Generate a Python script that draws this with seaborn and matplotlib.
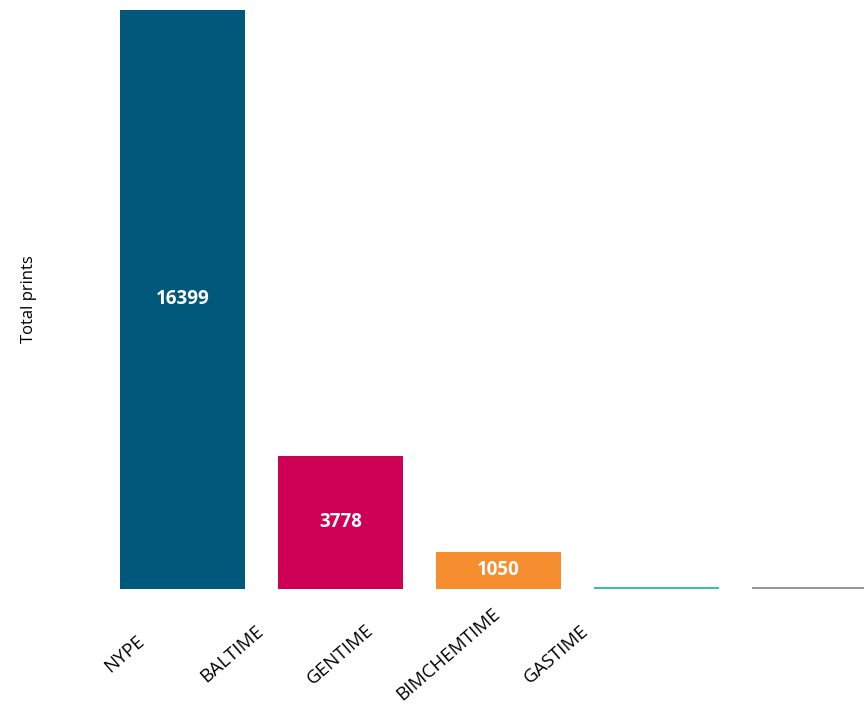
import matplotlib

matplotlib.use('Agg')
import matplotlib.pyplot as plt
import seaborn as sns
import pandas as pd

# Данные
categories = ['NYPE', 'BALTIME', 'GENTIME', 'BIMCHEMTIME', 'GASTIME']
prints = [16399, 3778, 1050, 70, 65]
colors = ['#00587A', '#CE0055', '#F68D2E', '#3CBFA4', '#8E9A9B']
shown_labels = ['16399', '3778', '1050', '', '']

sns.set_theme(style="white")
plt.rcParams['font.family'] = ['Open Sans', 'DejaVu Sans']

df = pd.DataFrame({'category': categories, 'prints': prints})

fig = plt.figure(figsize=(8.64, 7.18), dpi=100)
ax = fig.add_axes([103.5 / 864, 1 - 589 / 718, (864 - 103.5) / 864, 579 / 718])

sns.barplot(
    ax=ax,
    data=df,
    x='category',
    y='prints',
    hue='category',
    palette=dict(zip(categories, colors)),
    legend=False,
    width=125 / 158,
    saturation=1,
    linewidth=0,
)

ax.set_xlim(-0.5, (864 - 182.5) / 158)
ax.set_ylim(0, max(prints))
sns.despine(ax=ax, left=True, bottom=True)
ax.set_yticks([])
ax.set_xticks([])
ax.set_xlabel('')
ax.set_ylabel('Total prints', fontsize=12, color='black')
ax.yaxis.set_label_coords(-0.088, 0.5)

# Подписи значений
for container in ax.containers:
    labels = [shown_labels[int(round(p.get_x() + p.get_width() / 2))] for p in container]
    ax.bar_label(container, labels=labels, label_type='center',
                 color='white', fontsize=13.5, fontweight='bold')

# Подписи категорий (повернутые)
for i, name in enumerate(categories):
    x = (124 + 108 * i - 182.5) / 158
    ax.text(x, -0.113, name, transform=ax.get_xaxis_transform(),
            rotation=41, ha='center', va='center', rotation_mode='anchor',
            fontsize=13.5, color='black')

fig.savefig('out.png', dpi=100)
plt.close(fig)
